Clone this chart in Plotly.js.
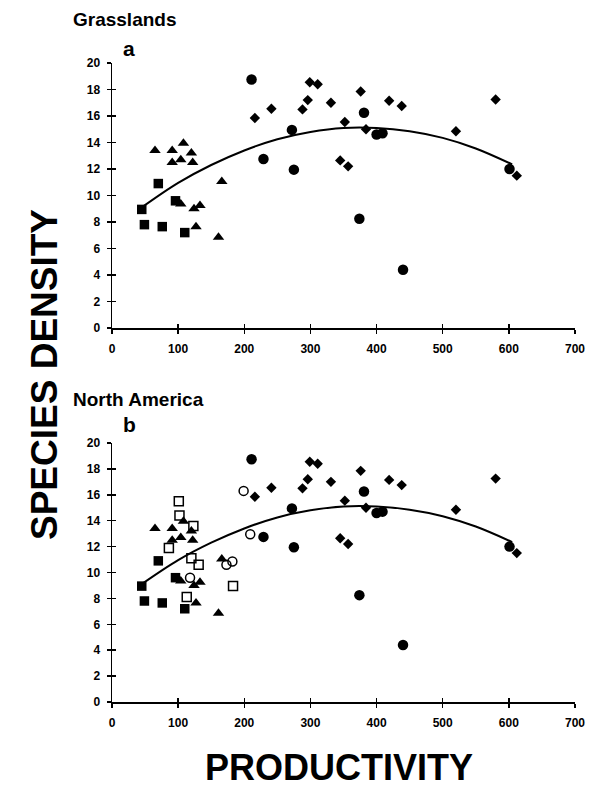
<!DOCTYPE html>
<html>
<head>
<meta charset="utf-8">
<script src="https://cdn.plot.ly/plotly-3.0.1.min.js"></script>
<style>html,body{margin:0;padding:0;background:#fff;}#chart{width:590px;height:791px;}</style>
</head>
<body>
<div id="chart"></div>
<script>
// ---- data ----
var circleX = [211, 229, 272, 275, 374, 381, 400, 409, 440, 601];
var circleY = [18.75, 12.75, 14.95, 11.95, 8.25, 16.25, 14.6, 14.7, 4.4, 12.0];

var diamondX = [216, 241, 288, 296, 299, 311, 331, 345, 352, 357, 376, 384, 419, 438, 520, 580, 612];
var diamondY = [15.85, 16.55, 16.5, 17.2, 18.55, 18.4, 17.0, 12.65, 15.55, 12.2, 17.85, 15.0, 17.15, 16.75, 14.85, 17.25, 11.5];

var triangleX = [65, 91, 91, 104, 104, 108, 120, 122, 124, 127, 133, 161, 166];
var triangleY = [13.4, 13.4, 12.5, 12.7, 9.35, 13.95, 13.2, 12.5, 9.0, 7.65, 9.25, 6.85, 11.05];

var squareX = [45, 49, 70, 76, 96, 110];
var squareY = [8.95, 7.8, 10.9, 7.65, 9.6, 7.2];

var openSquareX = [86, 101, 102, 113, 120, 123, 131, 183];
var openSquareY = [11.9, 15.5, 14.4, 8.1, 11.1, 13.6, 10.6, 8.95];

var openCircleX = [118, 173, 182, 199, 209];
var openCircleY = [9.6, 10.6, 10.85, 16.3, 12.95];

var fitX = [45, 100, 150, 200, 250, 300, 350, 400, 450, 500, 550, 605];
var fitY = [9.1, 10.95, 12.3, 13.4, 14.25, 14.8, 15.1, 15.1, 14.85, 14.35, 13.55, 12.35];

var xTicks = [0, 100, 200, 300, 400, 500, 600, 700];
var yTicks = [0, 2, 4, 6, 8, 10, 12, 14, 16, 18, 20];

var panelTitles = ["Grasslands", "North America"];
var panelLetters = ["a", "b"];
var xTitle = "PRODUCTIVITY";
var yTitle = "SPECIES DENSITY";

// ---- layout helpers ----
var W = 590, H = 791;
function px(x){ return x / W; }
function py(y){ return 1 - y / H; }
var FONT = "Liberation Sans, Arial, Helvetica, sans-serif";

function filledTraces(xa, ya){
  return [
    {x: fitX, y: fitY, xaxis: xa, yaxis: ya, mode: "lines", line: {color: "#000", width: 2, shape: "spline"}, hoverinfo: "skip"},
    {x: circleX, y: circleY, xaxis: xa, yaxis: ya, mode: "markers", marker: {symbol: "circle", size: 10.5, color: "#000", line: {width: 0}}},
    {x: diamondX, y: diamondY, xaxis: xa, yaxis: ya, mode: "markers", marker: {symbol: "diamond", size: 8, color: "#000", line: {width: 0}}},
    {x: triangleX, y: triangleY, xaxis: xa, yaxis: ya, mode: "markers", marker: {symbol: "triangle-up", size: 10, color: "#000", line: {width: 0}}},
    {x: squareX, y: squareY, xaxis: xa, yaxis: ya, mode: "markers", marker: {symbol: "square", size: 9.5, color: "#000", line: {width: 0}}}
  ];
}

var traces = filledTraces("x", "y").concat(filledTraces("x2", "y2"));
traces.push({x: openSquareX, y: openSquareY, xaxis: "x2", yaxis: "y2", mode: "markers",
  marker: {symbol: "square-open", size: 9, color: "#000", line: {width: 1.5, color: "#000"}}});
traces.push({x: openCircleX, y: openCircleY, xaxis: "x2", yaxis: "y2", mode: "markers",
  marker: {symbol: "circle-open", size: 9, color: "#000", line: {width: 1.5, color: "#000"}}});

var tickFont = {family: FONT, size: 12, color: "#000", weight: "bold"};

function xAxis(anchor){
  return {domain: [px(112), px(575)], range: [0, 700], anchor: anchor,
    tickvals: xTicks, ticktext: xTicks.map(String), tickfont: tickFont, ticklabelstandoff: 5,
    showline: true, linecolor: "#000", linewidth: 2, ticks: "outside", ticklen: 4, tickwidth: 1.5, tickcolor: "#000",
    showgrid: false, zeroline: false, automargin: false, fixedrange: true};
}
function yAxis(anchor, top, bottom){
  return {domain: [py(bottom), py(top)], range: [0, 20], anchor: anchor,
    tickvals: yTicks, ticktext: yTicks.map(String), tickfont: tickFont, ticklabelstandoff: 4,
    showline: true, linecolor: "#000", linewidth: 1.5, ticks: "outside", ticklen: 4, tickwidth: 1.5, tickcolor: "#000",
    showgrid: false, zeroline: false, automargin: false, fixedrange: true};
}
function innerX(over, anchor){
  return {overlaying: over, anchor: anchor, range: [0, 700], tickvals: xTicks, showticklabels: false,
    ticks: "inside", ticklen: 4, tickwidth: 1.5, tickcolor: "#000", showline: false, showgrid: false, zeroline: false, fixedrange: true};
}
function innerY(over, anchor){
  return {overlaying: over, anchor: anchor, range: [0, 20], tickvals: yTicks, showticklabels: false,
    ticks: "inside", ticklen: 4, tickwidth: 1.5, tickcolor: "#000", showline: false, showgrid: false, zeroline: false, fixedrange: true};
}

// dummy traces to make overlay axes draw
traces.push({x: [], y: [], xaxis: "x3", yaxis: "y3", mode: "markers", hoverinfo: "skip"});
traces.push({x: [], y: [], xaxis: "x4", yaxis: "y4", mode: "markers", hoverinfo: "skip"});

var layout = {
  width: W, height: H,
  margin: {l: 0, r: 0, t: 0, b: 0},
  paper_bgcolor: "#fff", plot_bgcolor: "rgba(0,0,0,0)",
  showlegend: false,
  font: {family: FONT, color: "#000"},
  xaxis: xAxis("y"),
  yaxis: yAxis("x", 63, 328),
  xaxis2: xAxis("y2"),
  yaxis2: yAxis("x2", 443, 702),
  xaxis3: innerX("x", "y3"),
  yaxis3: innerY("y", "x3"),
  xaxis4: innerX("x2", "y4"),
  yaxis4: innerY("y2", "x4"),
  annotations: [
    {text: panelTitles[0], xref: "paper", yref: "paper", x: px(71), y: py(20), xanchor: "left", yanchor: "middle", showarrow: false,
      font: {family: FONT, size: 19, weight: "bold", color: "#000"}},
    {text: panelLetters[0], xref: "paper", yref: "paper", x: px(121), y: py(49), xanchor: "left", yanchor: "middle", showarrow: false,
      font: {family: FONT, size: 21, weight: "bold", color: "#000"}},
    {text: panelTitles[1], xref: "paper", yref: "paper", x: px(71), y: py(400), xanchor: "left", yanchor: "middle", showarrow: false,
      font: {family: FONT, size: 19, weight: "bold", color: "#000"}},
    {text: panelLetters[1], xref: "paper", yref: "paper", x: px(121), y: py(425), xanchor: "left", yanchor: "middle", showarrow: false,
      font: {family: FONT, size: 21, weight: "bold", color: "#000"}},
    {text: yTitle, xref: "paper", yref: "paper", x: px(44), y: py(375), xanchor: "center", yanchor: "middle", textangle: -90, showarrow: false,
      font: {family: FONT, size: 37, weight: "bold", color: "#000"}},
    {text: xTitle, xref: "paper", yref: "paper", x: px(339), y: py(767), xanchor: "center", yanchor: "middle", showarrow: false,
      font: {family: FONT, size: 36, weight: "bold", color: "#000"}}
  ]
};

Plotly.newPlot("chart", traces, layout, {staticPlot: true, displayModeBar: false});
</script>
</body>
</html>
